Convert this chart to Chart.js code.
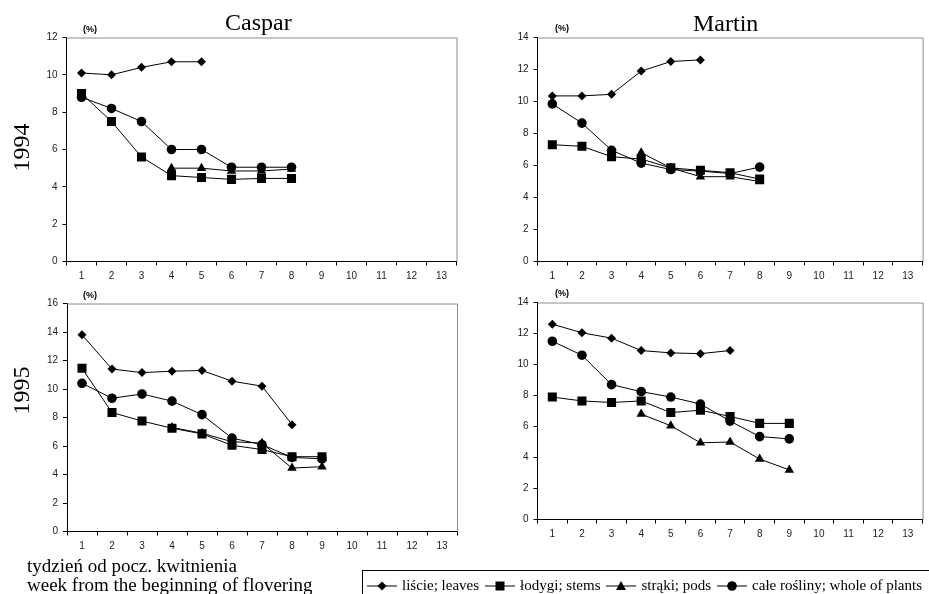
<!DOCTYPE html>
<html>
<head>
<meta charset="utf-8">
<script src="https://cdn.jsdelivr.net/npm/chart.js@4.4.0/dist/chart.umd.min.js"></script>
<style>
  body { margin: 0; background: #fff; width: 929px; height: 594px; position: relative; overflow: hidden; }
  canvas { position: absolute; }
  .t { position: absolute; font-family: "Liberation Serif", "Times New Roman", serif; color: #000; white-space: nowrap; }
  .pct { position: absolute; font: bold 9px "Liberation Sans", Arial, sans-serif; color: #000; }
  #legend { position: absolute; left: 362px; top: 570px; width: 570px; height: 30px; border-top: 1px solid #000; border-left: 1px solid #000;
    font: 15px "Liberation Serif", serif; display: flex; align-items: center; padding-left: 4px; box-sizing: border-box; }
  #legend span.item { display: flex; align-items: center; margin-right: 6px; }
  #legend svg { margin-right: 5px; }
</style>
</head>
<body>
<canvas id="c94" width="470" height="290" style="left:0;top:0"></canvas>
<canvas id="m94" width="459" height="290" style="left:470px;top:0"></canvas>
<canvas id="c95" width="470" height="304" style="left:0;top:290px"></canvas>
<canvas id="m95" width="459" height="304" style="left:470px;top:290px"></canvas>

<div class="t" style="left:225px;top:9px;font-size:24px">Caspar</div>
<div class="t" style="left:693px;top:10px;font-size:24px">Martin</div>
<div class="t" style="left:-3px;top:134px;font-size:24px;transform:rotate(-90deg)">1994</div>
<div class="t" style="left:-3px;top:377px;font-size:24px;transform:rotate(-90deg)">1995</div>
<div class="pct" style="left:83px;top:24px">(%)</div>
<div class="pct" style="left:555px;top:23px">(%)</div>
<div class="pct" style="left:83px;top:290px">(%)</div>
<div class="pct" style="left:555px;top:288px">(%)</div>
<div class="t" style="left:27px;top:555px;font-size:19px">tydzień od pocz. kwitnienia</div>
<div class="t" style="left:27px;top:574px;font-size:19px">week from the beginning of flovering</div>
<div id="legend"></div>

<script>
// weeks on the x axis
const weeks = ["1", "2", "3", "4", "5", "6", "7", "8", "9", "10", "11", "12", "13"];
const seriesNames = ["liście; leaves", "łodygi; stems", "strąki; pods", "całe rośliny; whole of plants"];
const markers = ["rectRot", "rect", "triangle", "circle"];
const markerSizes = [4.5, 6.4, 5.5, 4.8];

// Caspar 1994
const caspar94Leaves = [10.1, 10.0, 10.4, 10.7, 10.7];
const caspar94Stems = [9.0, 7.5, 5.6, 4.6, 4.5, 4.4, 4.45, 4.45];
const caspar94Pods = [null, null, null, 5.0, 5.0, 4.85, 4.85, 4.95];
const caspar94Whole = [8.8, 8.2, 7.5, 6.0, 6.0, 5.05, 5.05, 5.05];

// Martin 1994
const martin94Leaves = [10.35, 10.35, 10.45, 11.9, 12.5, 12.6];
const martin94Stems = [7.3, 7.2, 6.55, 6.4, 5.85, 5.7, 5.55, 5.15];
const martin94Pods = [null, null, null, 6.8, 5.85, 5.3, 5.3, 5.0];
const martin94Whole = [9.85, 8.65, 6.95, 6.15, 5.75, 5.65, 5.5, 5.9];

// Caspar 1995
const caspar95Leaves = [13.8, 11.4, 11.15, 11.25, 11.3, 10.55, 10.2, 7.5];
const caspar95Stems = [11.45, 8.35, 7.75, 7.25, 6.85, 6.05, 5.75, 5.25, 5.25];
const caspar95Pods = [null, null, null, 7.3, 6.9, 6.3, 6.2, 4.45, 4.55];
const caspar95Whole = [10.4, 9.35, 9.65, 9.15, 8.2, 6.55, 6.1, 5.2, 5.1];

// Martin 1995
const martin95Leaves = [12.6, 12.05, 11.7, 10.9, 10.75, 10.7, 10.9];
const martin95Stems = [7.9, 7.65, 7.55, 7.65, 6.9, 7.05, 6.65, 6.2, 6.2];
const martin95Pods = [null, null, null, 6.8, 6.05, 4.95, 5.0, 3.9, 3.2];
const martin95Whole = [11.5, 10.6, 8.7, 8.25, 7.9, 7.45, 6.35, 5.35, 5.2];

// gray frame on top and right of plot area
const framePlugin = {
  id: "frame",
  beforeDatasetsDraw(chart) {
    const a = chart.chartArea;
    const ctx = chart.ctx;
    ctx.save();
    ctx.strokeStyle = "#8c8c8c";
    ctx.lineWidth = 1;
    ctx.beginPath();
    ctx.moveTo(a.left, a.top + 0.5);
    ctx.lineTo(a.right + 0.5, a.top + 0.5);
    ctx.lineTo(a.right + 0.5, a.bottom);
    ctx.stroke();
    ctx.restore();
  }
};

function makePanel(id, series, yMax, box, canvasH) {
  const canvas = document.getElementById(id);
  const datasets = series.map((vals, i) => ({
    label: seriesNames[i],
    data: vals,
    borderColor: "#000",
    backgroundColor: "#000",
    borderWidth: 1,
    pointStyle: markers[i],
    pointRadius: markerSizes[i],
    pointBorderWidth: 0,
    spanGaps: false
  }));
  return new Chart(canvas, {
    type: "line",
    data: { labels: weeks, datasets: datasets },
    plugins: [framePlugin],
    options: {
      responsive: false,
      animation: false,
      layout: { padding: { left: 0, top: box.t, right: canvas.width - box.r, bottom: 0 } },
      plugins: { legend: { display: false }, tooltip: { enabled: false } },
      scales: {
        x: {
          type: "category",
          offset: true,
          grid: { offset: true, drawOnChartArea: false, tickLength: 4, color: "#000" },
          border: { color: "#000", width: 1 },
          ticks: { color: "#222", font: { family: "Liberation Sans", size: 10 }, padding: 5, maxRotation: 0, autoSkip: false },
          afterFit: (s) => { s.height = canvasH - box.b; }
        },
        y: {
          min: 0,
          max: yMax,
          ticks: { stepSize: 2, color: "#222", font: { family: "Liberation Sans", size: 10 }, padding: 5 },
          grid: { drawOnChartArea: false, tickLength: 4, color: "#000" },
          border: { color: "#000", width: 1 },
          afterFit: (s) => { s.width = box.l; }
        }
      }
    }
  });
}

makePanel("c94", [caspar94Leaves, caspar94Stems, caspar94Pods, caspar94Whole], 12, { l: 66.5, t: 37.5, r: 456.5, b: 261.5 }, 290);
makePanel("m94", [martin94Leaves, martin94Stems, martin94Pods, martin94Whole], 14, { l: 67.5, t: 37.5, r: 458, b: 261.5 }, 290);
makePanel("c95", [caspar95Leaves, caspar95Stems, caspar95Pods, caspar95Whole], 16, { l: 67, t: 13.5, r: 457, b: 241.5 }, 304);
makePanel("m95", [martin95Leaves, martin95Stems, martin95Pods, martin95Whole], 14, { l: 67.5, t: 12.5, r: 458, b: 229.5 }, 304);

// legend: line with marker, then label
const shapes = {
  rectRot: '<polygon points="15,1.5 19.5,6 15,10.5 10.5,6" />',
  rect: '<rect x="10.5" y="1.5" width="9" height="9" />',
  triangle: '<polygon points="15,1 20,10 10,10" />',
  circle: '<circle cx="15" cy="6" r="4.8" />'
};
const legend = document.getElementById("legend");
seriesNames.forEach((name, i) => {
  const item = document.createElement("span");
  item.className = "item";
  item.innerHTML = '<svg width="30" height="12"><line x1="0" y1="6" x2="30" y2="6" stroke="#000" stroke-width="1"/>' +
    '<g fill="#000">' + shapes[markers[i]] + '</g></svg>' + name;
  legend.appendChild(item);
});
</script>
</body>
</html>
